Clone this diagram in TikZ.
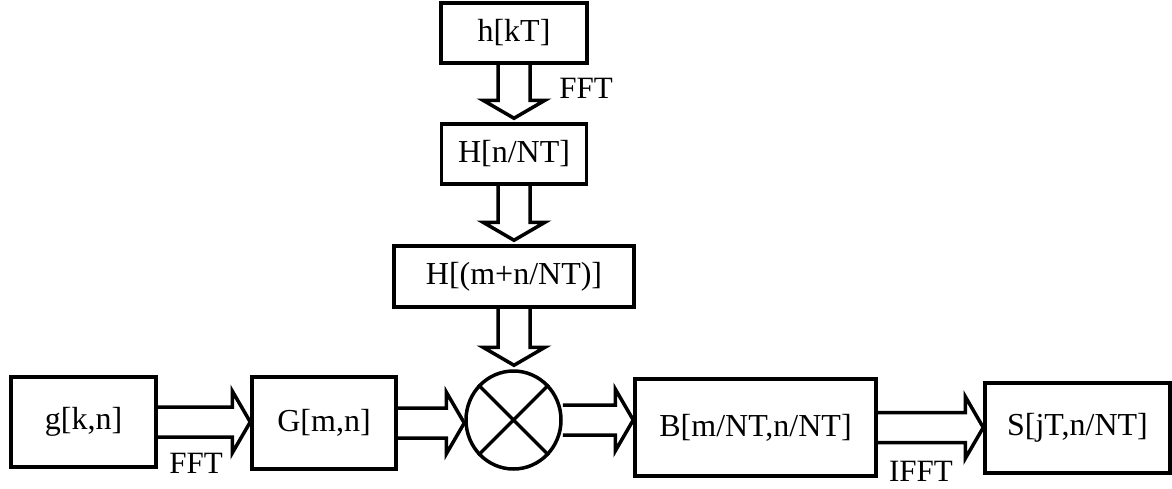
\documentclass[tikz,border=0pt]{standalone}
\usepackage{fontspec}
\setmainfont{Liberation Serif}
\usetikzlibrary{shapes.geometric,calc}
\tikzset{
  box/.style={draw, line width=3.5pt, rectangle, inner sep=0pt, font=\fontsize{32}{32}\selectfont},
  lbl/.style={inner sep=0pt, font=\fontsize{31}{31}\selectfont},
  bar/.style={draw, line width=3.5pt, line join=miter},
}
\newcommand{\harrow}[2]{%
  \draw[bar] let \p1=(#1.east), \p2=(#2.west) in
    (\x1,\y1+15pt) -- (\x2-18pt,\y1+15pt) -- (\x2-18pt,\y1+31pt) -- (\x2,\y1)
    -- (\x2-18pt,\y1-31pt) -- (\x2-18pt,\y1-15pt) -- (\x1,\y1-15pt);}
\newcommand{\varrow}[2]{%
  \draw[bar] let \p1=(#1.south), \p2=(#2.north) in
    (\x1-16pt,\y1) -- (\x1-16pt,\y2+22pt) -- (\x1-31pt,\y2+22pt) -- (\x1,\y2+4pt)
    -- (\x1+31pt,\y2+22pt) -- (\x1+16pt,\y2+22pt) -- (\x1+16pt,\y1);}
\begin{document}
\begin{tikzpicture}[x=1pt,y=-1pt]
\useasboundingbox (0,0) rectangle (1172,488);
\node[box, minimum width=146pt, minimum height=60pt] (h) at (514,33) {h[kT]};
\node[box, minimum width=145pt, minimum height=60pt] (Hn) at (514,154) {H[n/NT]};
\node[box, minimum width=240pt, minimum height=61pt] (Hm) at (514,276.5) {H[(m+n/NT)]};
\node[box, minimum width=145pt, minimum height=90pt] (g) at (83.5,422) {g[k,n]};
\node[box, minimum width=144pt, minimum height=92pt] (G) at (324,423) {G[m,n]};
\node[draw, line width=3.5pt, ellipse, inner sep=0pt, minimum width=95pt, minimum height=98pt] (x) at (513.5,420) {};
\draw[line width=3.5pt] (x.45) -- (x.225) (x.135) -- (x.315);
\node[box, minimum width=241pt, minimum height=97pt] (B) at (755.5,427.5) {B[m/NT,n/NT]};
\node[box, minimum width=185pt, minimum height=90pt] (S) at (1077.5,428) {S[jT,n/NT]};
\varrow{h}{Hn}
\varrow{Hn}{Hm}
\varrow{Hm}{x}
\harrow{g}{G}
\harrow{G}{x}
\harrow{x}{B}
\harrow{B}{S}
\node[lbl] (fft1) at (586,88) {FFT};
\node[lbl] (fft2) at (196,463) {FFT};
\node[lbl] (ifft) at (921,471) {IFFT};
\end{tikzpicture}
\end{document}
